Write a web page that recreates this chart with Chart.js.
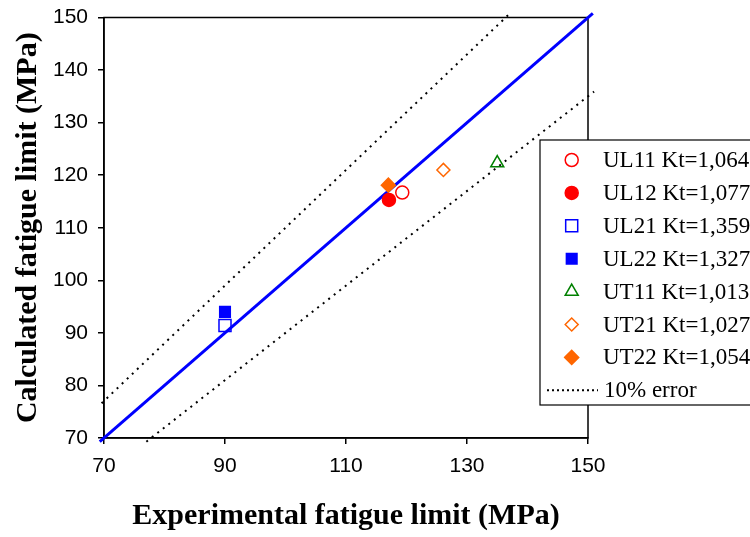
<!DOCTYPE html>
<html>
<head>
<meta charset="utf-8">
<script src="https://cdn.jsdelivr.net/npm/chart.js@4.4.0/dist/chart.umd.min.js"></script>
<style>
    body { margin: 0; background: #fff; }
    #wrap { position: relative; width: 750px; height: 537px; }
</style>
</head>
<body>
<div id="wrap"><canvas id="fatigueChart" width="750" height="537"></canvas></div>
<script>
// series (one point per specimen)
const seriesLabels = ['UL11 Kt=1,064', 'UL12 Kt=1,077', 'UL21 Kt=1,359', 'UL22 Kt=1,327',
                      'UT11 Kt=1,013', 'UT21 Kt=1,027', 'UT22 Kt=1,054'];
const experimentalLimit = [119.3, 117.1, 90.0, 90.0, 135.0, 126.1, 117.0];
const calculatedLimit   = [116.7, 115.3, 91.4, 94.0, 122.3, 121.0, 118.1];

// reference lines
const idealX = [69.3, 150.8];
const idealY = [69.3, 150.8];
const upperErrX = [69.6, 137.3];
const upperErrY = [76.6, 151.0];
const lowerErrX = [77.0, 151.0];
const lowerErrY = [69.3, 135.9];

const xTicks = [70, 90, 110, 130, 150];
const yTicks = [70, 80, 90, 100, 110, 120, 130, 140, 150];

const markerStyles = [
    { pointStyle: 'circle',   color: '#ff0000', filled: false, radius: 6.5 },
    { pointStyle: 'circle',   color: '#ff0000', filled: true,  radius: 6.5 },
    { pointStyle: 'rect',     color: '#0000ff', filled: false, radius: 8.5 },
    { pointStyle: 'rect',     color: '#0000ff', filled: true,  radius: 7.5 },
    { pointStyle: 'triangle', color: '#008000', filled: false, radius: 7.5 },
    { pointStyle: 'rectRot',  color: '#ff6600', filled: false, radius: 6.5 },
    { pointStyle: 'rectRot',  color: '#ff6600', filled: true,  radius: 7 }
];

const pointSets = seriesLabels.map((label, i) => ({
    type: 'scatter',
    label: label,
    data: [{ x: experimentalLimit[i], y: calculatedLimit[i] }],
    pointStyle: markerStyles[i].pointStyle,
    pointRadius: markerStyles[i].radius,
    pointBorderWidth: 1.5,
    pointBorderColor: markerStyles[i].color,
    pointBackgroundColor: markerStyles[i].filled ? markerStyles[i].color : 'rgba(0,0,0,0)',
    order: 1
}));

function lineSet(label, xs, ys, color, width, dash) {
    return {
        type: 'line',
        label: label,
        data: xs.map((x, i) => ({ x: x, y: ys[i] })),
        borderColor: color,
        borderWidth: width,
        borderDash: dash,
        pointRadius: 0,
        fill: false,
        clip: false,
        order: 5
    };
}

const lineSets = [
    lineSet('ideal', idealX, idealY, '#0000ff', 3, []),
    lineSet('10% error', upperErrX, upperErrY, '#000000', 2, [2, 5]),
    lineSet('10% error low', lowerErrX, lowerErrY, '#000000', 2, [2, 5])
];

// frame round the plot area
const framePlugin = {
    id: 'frame',
    beforeDatasetsDraw(chart) {
        const { ctx, chartArea: a } = chart;
        ctx.save();
        ctx.strokeStyle = '#000';
        ctx.lineWidth = 1.5;
        ctx.strokeRect(a.left, a.top, a.right - a.left, a.bottom - a.top);
        ctx.restore();
    }
};

// legend box that sits over the right part of the plot
const boxLegend = {
    id: 'boxLegend',
    afterDraw(chart) {
        const ctx = chart.ctx;
        const left = 540, top = 140, rowH = 32.9;
        ctx.save();
        ctx.fillStyle = '#fff';
        ctx.fillRect(left, top, 230, 265);
        ctx.strokeStyle = '#000';
        ctx.lineWidth = 1.2;
        ctx.strokeRect(left, top, 230, 265);

        ctx.font = '23px "Liberation Serif", "Times New Roman", serif';
        ctx.textBaseline = 'middle';
        ctx.fillStyle = '#000';

        pointSets.forEach((ds, i) => {
            const y = top + 20 + i * rowH;
            ctx.save();
            ctx.strokeStyle = ds.pointBorderColor;
            ctx.fillStyle = ds.pointBackgroundColor;
            ctx.lineWidth = 1.5;
            if (Chart.helpers && Chart.helpers.drawPoint) {
                Chart.helpers.drawPoint(ctx, {
                    pointStyle: ds.pointStyle,
                    radius: ds.pointRadius,
                    rotation: 0,
                    borderWidth: 1.5
                }, 571.7, y);
            }
            ctx.restore();
            ctx.fillText(ds.label, 603, y + 1);
        });

        const ly = top + 20 + 7 * rowH;
        ctx.strokeStyle = '#000';
        ctx.lineWidth = 2;
        ctx.setLineDash([2, 3]);
        ctx.beginPath();
        ctx.moveTo(547, ly);
        ctx.lineTo(598, ly);
        ctx.stroke();
        ctx.setLineDash([]);
        ctx.fillText(lineSets[1].label, 604, ly + 1);
        ctx.restore();
    }
};

const axisTitleFont = { family: '"Liberation Serif", "Times New Roman", serif', weight: 'bold', size: 30 };
const tickFont = { family: '"Liberation Sans", Arial, sans-serif', size: 21 };

new Chart(document.getElementById('fatigueChart'), {
    data: { datasets: [...pointSets, ...lineSets] },
    options: {
        responsive: false,
        animation: false,
        layout: { padding: { top: 17.5, right: 162, left: 0, bottom: 0 } },
        scales: {
            x: {
                type: 'linear',
                min: 70,
                max: 150,
                afterBuildTicks: scale => { scale.ticks = xTicks.map(v => ({ value: v })); },
                afterFit: scale => { scale.height = 99; },
                ticks: { font: tickFont, color: '#000', padding: 10 },
                grid: { drawOnChartArea: false, drawTicks: true, tickLength: 6, color: '#000', lineWidth: 1.5 },
                border: { display: true, color: '#000', width: 1.5 },
                title: {
                    display: true,
                    text: 'Experimental fatigue limit (MPa)',
                    font: axisTitleFont,
                    color: '#000',
                    padding: { top: 0, bottom: 3 }
                }
            },
            y: {
                type: 'linear',
                min: 70,
                max: 150,
                afterBuildTicks: scale => { scale.ticks = yTicks.map(v => ({ value: v })); },
                afterFit: scale => {
                    scale.width = 104;
                    scale.paddingTop = 0;
                    scale.paddingBottom = 0;
                },
                ticks: { font: tickFont, color: '#000', padding: 10 },
                grid: { drawOnChartArea: false, drawTicks: true, tickLength: 6, color: '#000', lineWidth: 1.5 },
                border: { display: true, color: '#000', width: 1.5 },
                title: {
                    display: true,
                    text: 'Calculated fatigue limit (MPa)',
                    font: axisTitleFont,
                    color: '#000',
                    padding: { top: 10, bottom: 0 }
                }
            }
        },
        plugins: {
            legend: { display: false },
            tooltip: { enabled: false }
        }
    },
    plugins: [framePlugin, boxLegend]
});
</script>
</body>
</html>
